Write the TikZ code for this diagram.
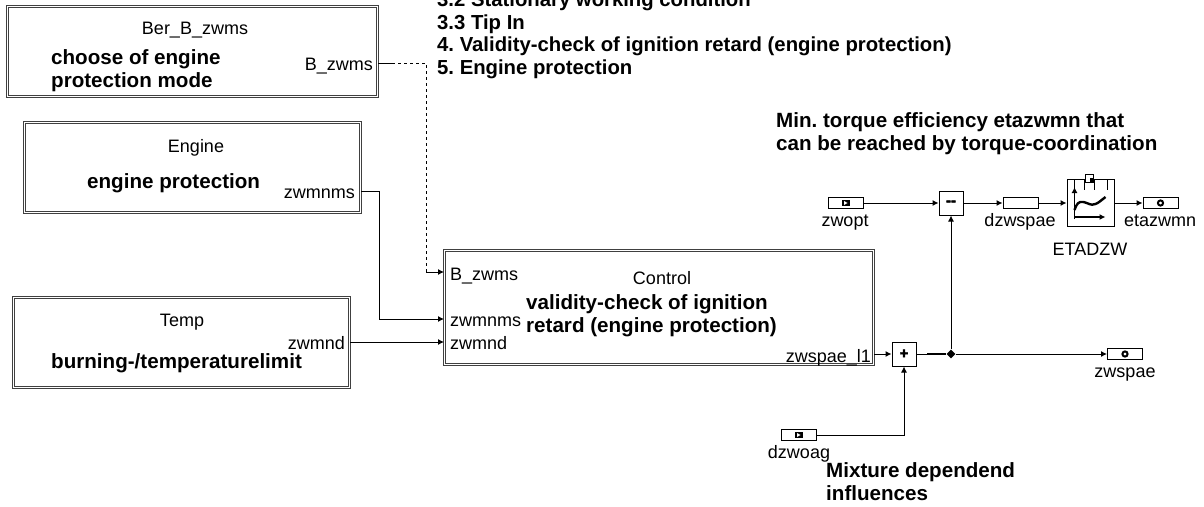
\documentclass[tikz,border=0pt]{standalone}
\usepackage{fontspec}
\setmainfont{Liberation Sans}
\newfontfamily\signfont[FakeBold=2.5]{Liberation Sans Bold}
\usepackage{xcolor}
\usetikzlibrary{arrows.meta,positioning,shapes.geometric,calc}
\frenchspacing

\tikzset{
  blockbox/.style={draw=black!75, line width=1pt, double, double distance=1.1pt, inner sep=0pt},
  portbox/.style={draw, line width=1pt, fill=white, minimum width=35pt, minimum height=11pt, inner sep=0pt},
  inport/.style={portbox, path picture={
      \fill[black] ($(path picture bounding box.center)+(-4,-3)$) rectangle ++(8,6);
      \fill[white] ($(path picture bounding box.center)+(-1.5,-2)$) -- ++(3.5,2) -- ++(-3.5,2) -- cycle;}},
  outport/.style={portbox, path picture={
      \draw[black, line width=2pt] (path picture bounding box.center) circle (2.6pt);}},
  sumbox/.style={draw, line width=1pt, fill=white, minimum size=24pt, inner sep=0pt,
      font=\fontsize{15}{15}\signfont},
  lbl/.style={inner sep=0pt, font=\fontsize{18}{22}\selectfont},
  boldlbl/.style={inner sep=0pt, align=left, font=\fontsize{20.6}{22.4}\selectfont\bfseries},
  sigline/.style={line width=1pt, -{Latex[length=6pt,width=6pt]}},
  plainline/.style={line width=1pt},
}

\begin{document}
\begin{tikzpicture}[x=1pt,y=-1pt]
    \useasboundingbox (0,0) rectangle (1204,506);

    % Ueberschrift
    \node[boldlbl, font=\fontsize{20.3}{22.4}\selectfont\bfseries, anchor=base west] (steps) at (437,74) {3.2 Stationary working condition\\3.3 Tip In\\4. Validity-check of ignition retard (engine protection)\\5. Engine protection};
    \node[boldlbl, anchor=base west] (mintorque) at (776,150) {Min. torque efficiency etazwmn that\\can be reached by torque-coordination};

    % Block Ber_B_zwms
    \node[blockbox, minimum width=370pt, minimum height=90pt] (ber) at (192.5,51.5) {};
    \node[lbl, anchor=base] (bername) at (195,34) {Ber\_B\_zwms};
    \node[boldlbl, anchor=base west] (bertext) at (51,87) {choose of engine\\protection mode};
    \node[lbl, anchor=base east] (berout) at (373,70) {B\_zwms};

    % Block Engine
    \node[blockbox, minimum width=336pt, minimum height=90pt] (engine) at (192.5,167.5) {};
    \node[lbl, anchor=base] (enginename) at (196,152) {Engine};
    \node[boldlbl, anchor=base west] (enginetext) at (87,188) {engine protection};
    \node[lbl, anchor=base east] (engineout) at (355,198) {zwmnms};

    % Block Temp
    \node[blockbox, minimum width=336pt, minimum height=90pt] (temp) at (181.5,342.5) {};
    \node[lbl, anchor=base] (tempname) at (182,326) {Temp};
    \node[boldlbl, anchor=base west] (temptext) at (51,368) {burning-/temperaturelimit};
    \node[lbl, anchor=base east] (tempout) at (345,349) {zwmnd};

    % Block Control
    \node[blockbox, minimum width=429pt, minimum height=114pt] (control) at (659,307.5) {};
    \node[lbl, anchor=base] (controlname) at (662,284) {Control};
    \node[boldlbl, anchor=base west] (controltext) at (526,332) {validity-check of ignition\\retard (engine protection)};
    \node[lbl, anchor=base west] (ctrlb) at (450,280) {B\_zwms};
    \node[lbl, anchor=base west] (ctrlnms) at (450,326) {zwmnms};
    \node[lbl, anchor=base west] (ctrlnd) at (450,349) {zwmnd};
    \node[lbl, anchor=base east] (ctrlout) at (871,362) {zwspae\_l1};

    % Summenstellen
    \node[sumbox] (sumplus) at (904,354) {+};
    \node[sumbox] (summinus) at (951,203) {--};
    \node[diamond, fill=black, inner sep=0pt, minimum size=9pt] (junction) at (951,354) {};

    % Ein- und Ausgaenge
    \node[inport] (zwopt) at (845.5,203) {};
    \node[lbl, anchor=base] (zwoptlbl) at (845,226) {zwopt};
    \node[inport] (dzwoag) at (798.5,435) {};
    \node[lbl, anchor=base] (dzwoaglbl) at (799,458) {dzwoag};
    \node[outport] (zwspae) at (1125,354) {};
    \node[lbl, anchor=base] (zwspaelbl) at (1125,377) {zwspae};
    \node[outport] (etazwmn) at (1160.5,203) {};
    \node[lbl, anchor=base] (etazwmnlbl) at (1160,226) {etazwmn};
    \node[portbox] (dzwspae) at (1020.5,203) {};
    \node[lbl, anchor=base] (dzwspaelbl) at (1020,226) {dzwspae};
    \node[boldlbl, anchor=base west] (mixture) at (826,500) {Mixture dependend\\influences};

    % Kennlinie
    \node[draw, line width=1pt, fill=white, minimum size=47pt, inner sep=0pt] (etadzw) at (1090.5,203) {};
    \node[lbl, anchor=base] (etadzwlbl) at (1090,255) {ETADZW};
    \begin{scope}[shift={(etadzw.north west)}]
        \foreach \tickx in {8,18,28,41} \draw[line width=0.8pt] (\tickx,0) -- (\tickx,11);
        \draw[line width=1pt, fill=white] (19,-4.5) rectangle (27,3.5);
        \fill (23,-1) rectangle (27,3.5);
        \draw[line width=1.3pt, -{Latex[length=6pt,width=6pt]}] (8,40) -- (8,8);
        \draw[line width=1.3pt, -{Latex[length=6pt,width=6pt]}] (8,38) -- (39,38);
        \draw[line width=2.4pt] (8,31) .. controls (10,25) and (12,22) .. (17,23) .. controls (22,24) and (24,27) .. (29,25) .. controls (32,24) and (35,21) .. (39,18);
    \end{scope}

    % Verbindungen
    \coordinate (berport) at (ber.east |- 0,63);
    \coordinate (berstub) at (392,63);
    \coordinate (berbend) at (426,63);
    \coordinate (berdown) at (426,272);
    \coordinate (ctrlbin) at (control.west |- 0,272);
    \draw[plainline] (berport) -- (berstub);
    \draw[line width=1pt, dash pattern=on 3pt off 3pt] (berstub) -- (berbend) -- (berdown);
    \draw[sigline] (berdown) -- (ctrlbin);

    \coordinate (engineport) at (engine.east |- 0,191);
    \coordinate (ctrlnmsin) at (control.west |- 0,319);
    \draw[sigline] (engineport) -- (379,191) -- (379,319) -- (ctrlnmsin);

    \coordinate (tempport) at (temp.east |- 0,342);
    \coordinate (ctrlndin) at (control.west |- 0,342);
    \draw[sigline] (tempport) -- (ctrlndin);

    \coordinate (ctrlport) at (control.east |- sumplus);
    \draw[sigline] (ctrlport) -- (sumplus);
    \draw[sigline] (dzwoag) -| (sumplus);
    \draw[sigline] (zwopt) -- (summinus);
    \draw[sigline] (summinus) -- (dzwspae);
    \draw[sigline] (dzwspae) -- (etadzw);
    \draw[sigline] (etadzw) -- (etazwmn);
    \coordinate (thickstart) at (927,354);
    \draw[plainline] (sumplus) -- (thickstart);
    \draw[line width=1.6pt] (thickstart) -- (junction);
    \draw[sigline] (junction) -- (zwspae);
    \draw[sigline] (junction) -- (summinus);
\end{tikzpicture}
\end{document}
